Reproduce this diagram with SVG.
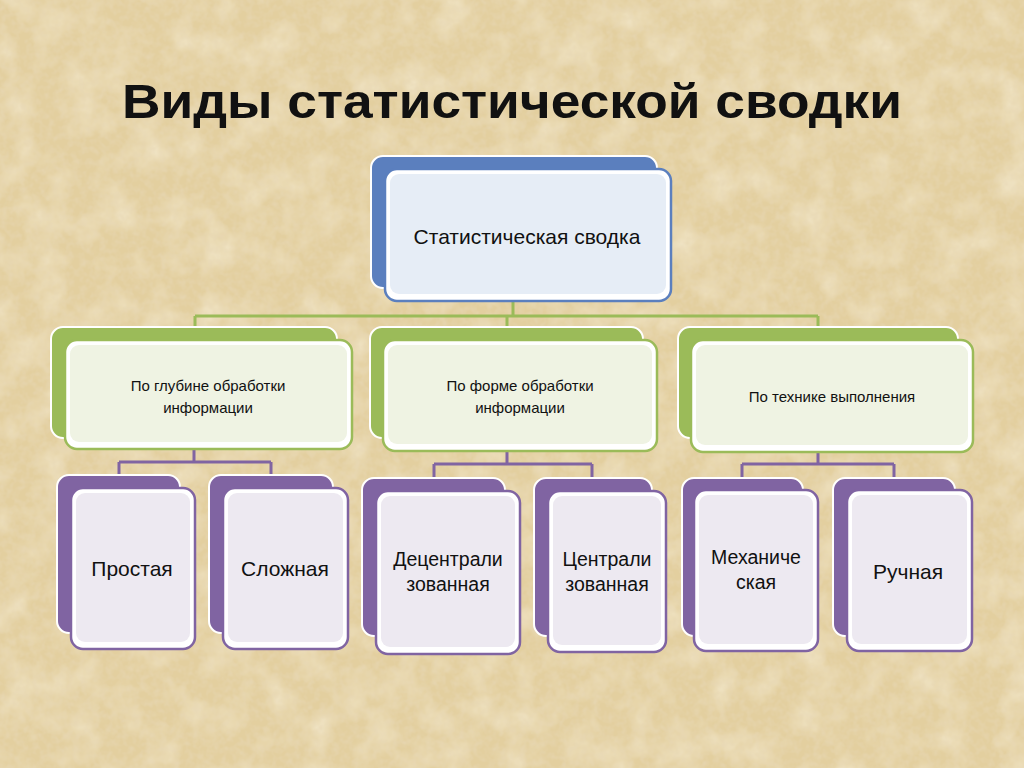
<svg xmlns="http://www.w3.org/2000/svg" width="1024" height="768" viewBox="0 0 1024 768">
<defs>
<filter id="tex" x="0" y="0" width="100%" height="100%">
<feTurbulence type="fractalNoise" baseFrequency="0.03" numOctaves="4" seed="7" result="n"/>
<feColorMatrix in="n" type="matrix" values="0 0 0 0 0.95  0 0 0 0 0.89  0 0 0 0 0.74  0 0 0 1.1 -0.45"/>
</filter>
<filter id="tex2" x="0" y="0" width="100%" height="100%">
<feTurbulence type="fractalNoise" baseFrequency="0.15" numOctaves="2" seed="3" result="n"/>
<feColorMatrix in="n" type="matrix" values="0 0 0 0 0.80  0 0 0 0 0.68  0 0 0 0 0.46  0 0 0 1.3 -0.5"/>
</filter>
<style>
.t{font-family:"Liberation Sans",Arial,sans-serif;fill:#111;text-anchor:middle}
.c{fill:none;stroke-width:3}
.g{stroke:#9bbb59}.p{stroke:#8064a2}
.front{fill:#fff;stroke-width:2.5}
</style>
</defs>
<rect width="1024" height="768" fill="#e3cf9f"/>
<rect width="1024" height="768" filter="url(#tex)"/>
<rect width="1024" height="768" filter="url(#tex2)"/>
<text x="512" y="118" class="t" font-size="48" font-weight="bold" textLength="780" lengthAdjust="spacingAndGlyphs">Виды статистической сводки</text>

<g id="connectors">
<path class="c g" d="M513 302V316M195 316H818M195 316V328M507 316V328M818 316V328"/>
<path class="c p" d="M194 450V462M119 462H271M119 462V476M271 462V476"/>
<path class="c p" d="M507 452V464M434 464H592M434 464V478M592 464V478"/>
<path class="c p" d="M818 452V464M742 464H894M742 464V478M894 464V478"/>
</g>

<g id="n0">
<rect x="371" y="156" width="286" height="132" rx="12" fill="#5b7fbe" stroke="#fff" stroke-width="2"/>
<rect x="385" y="169" width="286" height="132" rx="12" class="front" stroke="#5b7fbe"/>
<rect x="390" y="174" width="276" height="120" rx="9" fill="#e6edf6"/>
<text x="527" y="244" class="t" font-size="21">Статистическая сводка</text>
</g>

<g id="n1">
<rect x="51" y="327" width="286" height="111" rx="12" fill="#9bbb59" stroke="#fff" stroke-width="2"/>
<rect x="65" y="340" width="287" height="109" rx="12" class="front" stroke="#9bbb59"/>
<rect x="70" y="345" width="277" height="97" rx="9" fill="#eff3e3"/>
<text x="208" y="391" class="t" font-size="15">По глубине обработки</text>
<text x="208" y="413" class="t" font-size="15">информации</text>
</g>
<g id="n2">
<rect x="370" y="327" width="273" height="111" rx="12" fill="#9bbb59" stroke="#fff" stroke-width="2"/>
<rect x="383" y="340" width="274" height="111" rx="12" class="front" stroke="#9bbb59"/>
<rect x="388" y="345" width="264" height="99" rx="9" fill="#eff3e3"/>
<text x="520" y="391" class="t" font-size="15">По форме обработки</text>
<text x="520" y="413" class="t" font-size="15">информации</text>
</g>
<g id="n3">
<rect x="678" y="327" width="280" height="111" rx="12" fill="#9bbb59" stroke="#fff" stroke-width="2"/>
<rect x="691" y="340" width="282" height="112" rx="12" class="front" stroke="#9bbb59"/>
<rect x="696" y="345" width="272" height="100" rx="9" fill="#eff3e3"/>
<text x="832" y="402" class="t" font-size="15">По технике выполнения</text>
</g>

<g id="n4">
<rect x="57" y="475" width="123" height="158" rx="12" fill="#8064a2" stroke="#fff" stroke-width="2"/>
<rect x="71" y="488" width="124" height="161" rx="12" class="front" stroke="#8064a2"/>
<rect x="76" y="493" width="114" height="149" rx="9" fill="#ede9f1"/>
<text x="132" y="576" class="t" font-size="21">Простая</text>
</g>
<g id="n5">
<rect x="209" y="475" width="124" height="158" rx="12" fill="#8064a2" stroke="#fff" stroke-width="2"/>
<rect x="223" y="488" width="125" height="161" rx="12" class="front" stroke="#8064a2"/>
<rect x="228" y="493" width="115" height="149" rx="9" fill="#ede9f1"/>
<text x="285" y="576" class="t" font-size="21">Сложная</text>
</g>
<g id="n6">
<rect x="362" y="478" width="143" height="158" rx="12" fill="#8064a2" stroke="#fff" stroke-width="2"/>
<rect x="376" y="491" width="144" height="163" rx="12" class="front" stroke="#8064a2"/>
<rect x="381" y="496" width="134" height="151" rx="9" fill="#ede9f1"/>
<text x="448" y="566" class="t" font-size="19.5">Децентрали</text>
<text x="448" y="591" class="t" font-size="19.5">зованная</text>
</g>
<g id="n7">
<rect x="534" y="478" width="118" height="158" rx="12" fill="#8064a2" stroke="#fff" stroke-width="2"/>
<rect x="548" y="491" width="118" height="161" rx="12" class="front" stroke="#8064a2"/>
<rect x="553" y="496" width="108" height="149" rx="9" fill="#ede9f1"/>
<text x="607" y="566" class="t" font-size="19.5">Централи</text>
<text x="607" y="591" class="t" font-size="19.5">зованная</text>
</g>
<g id="n8">
<rect x="682" y="478" width="121" height="158" rx="12" fill="#8064a2" stroke="#fff" stroke-width="2"/>
<rect x="694" y="490" width="124" height="161" rx="12" class="front" stroke="#8064a2"/>
<rect x="699" y="495" width="114" height="149" rx="9" fill="#ede9f1"/>
<text x="756" y="564" class="t" font-size="19.5">Механиче</text>
<text x="756" y="589" class="t" font-size="19.5">ская</text>
</g>
<g id="n9">
<rect x="833" y="478" width="122" height="158" rx="12" fill="#8064a2" stroke="#fff" stroke-width="2"/>
<rect x="847" y="490" width="125" height="161" rx="12" class="front" stroke="#8064a2"/>
<rect x="852" y="495" width="115" height="149" rx="9" fill="#ede9f1"/>
<text x="908" y="579" class="t" font-size="21">Ручная</text>
</g>
</svg>
